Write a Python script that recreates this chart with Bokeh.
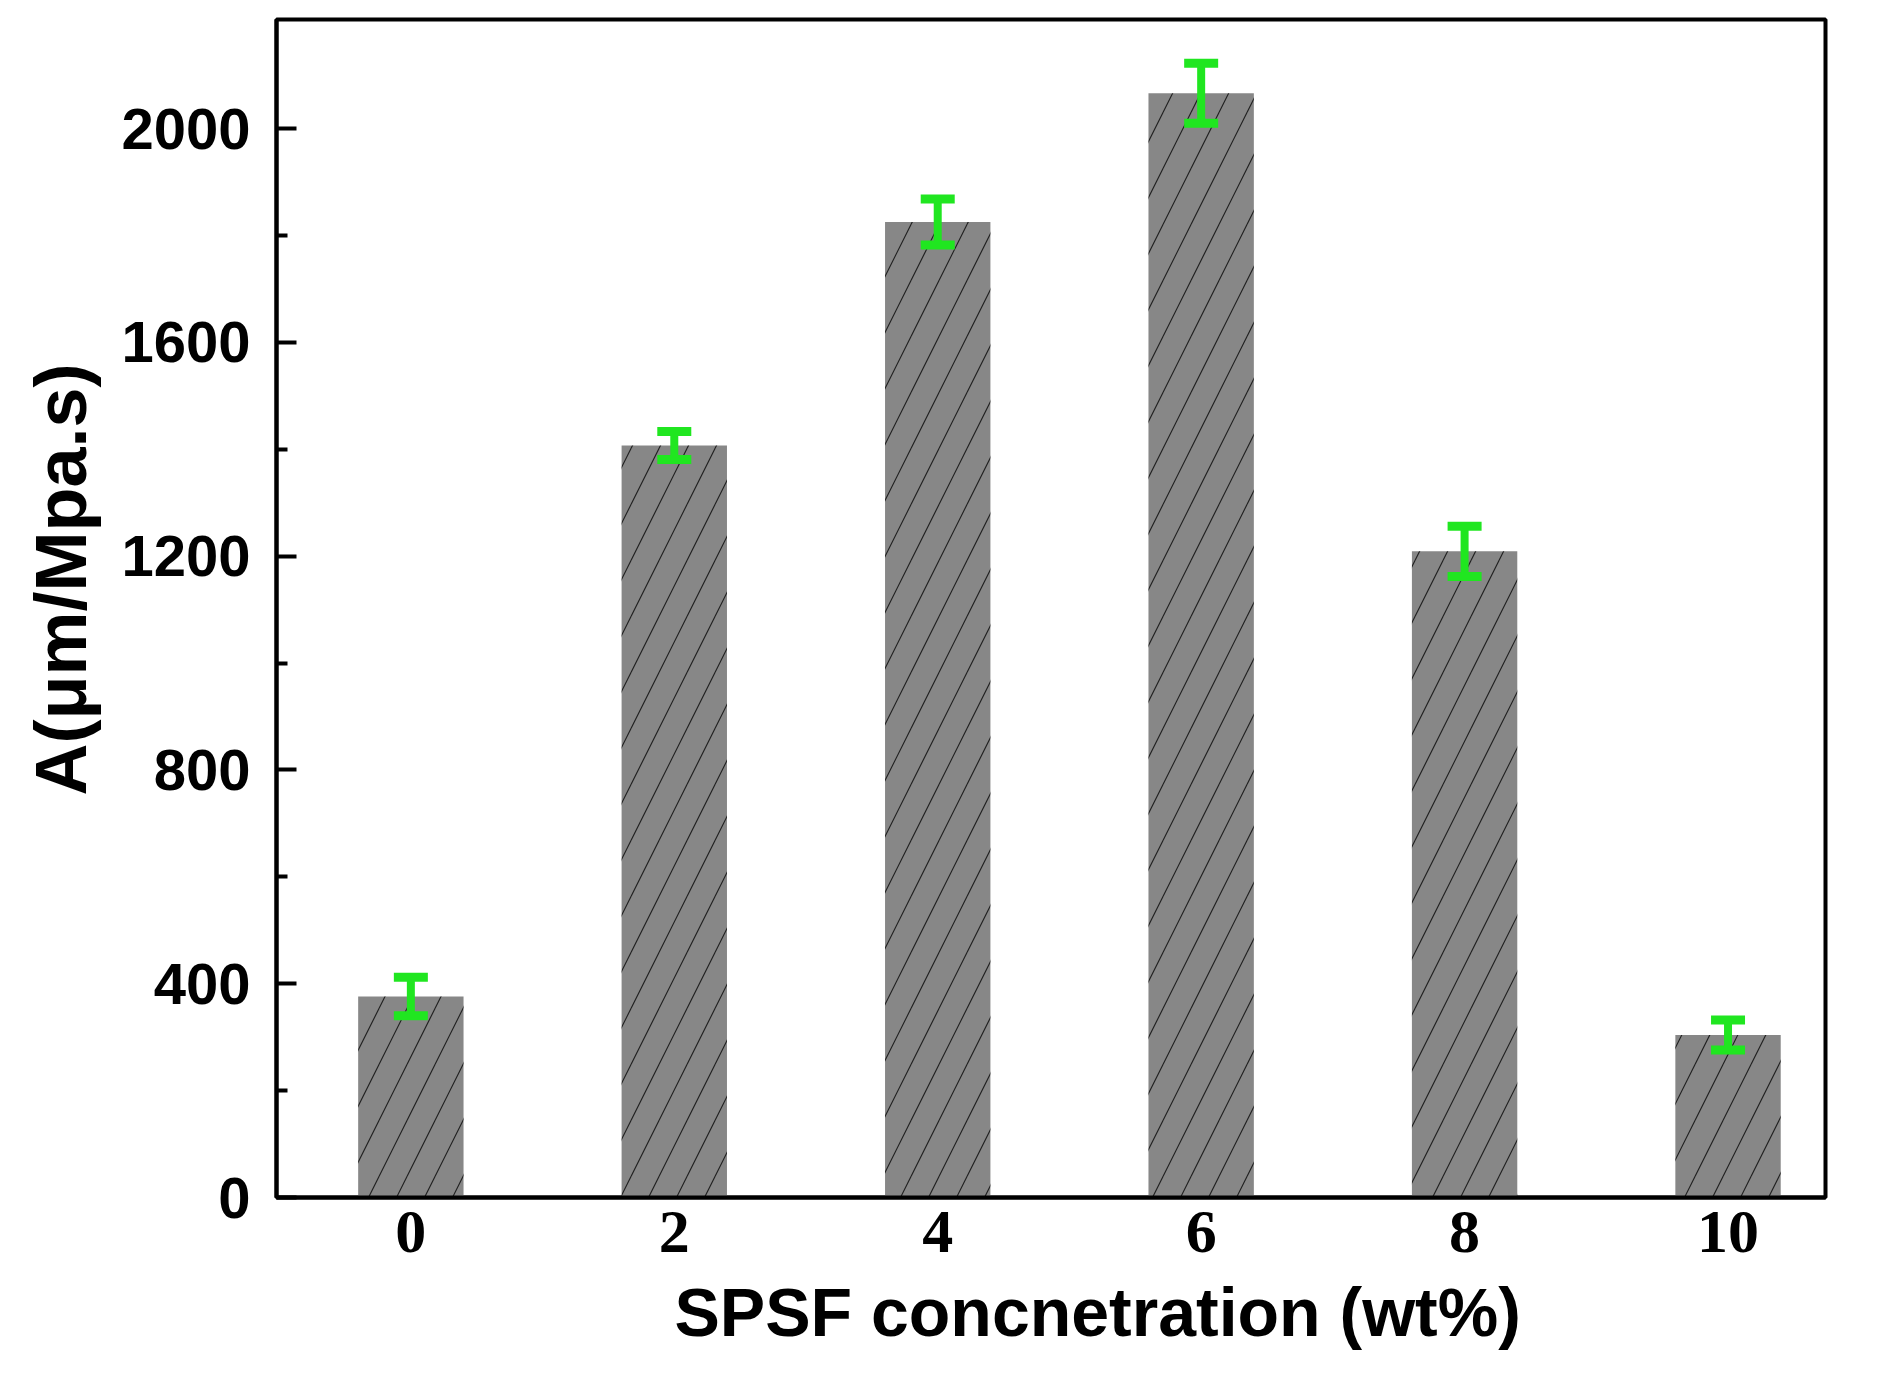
from bokeh.plotting import figure
from bokeh.models import ColumnDataSource, Whisker, TeeHead, FixedTicker, Range1d, Title
from bokeh.embed import file_html
from bokeh.resources import INLINE

# data
conc = [0, 2, 4, 6, 8, 10]
values = [376, 1407, 1825, 2066, 1209, 304]
errors = [36, 26, 43, 56, 47, 28]
x_ticks = [0, 2, 4, 6, 8, 10]
y_ticks = [0, 400, 800, 1200, 1600, 2000]
y_minor = [200, 600, 1000, 1400, 1800]
x_title = "SPSF concnetration (wt%)"
y_title = "A(μm/Mpa.s)"

src = ColumnDataSource(dict(
    x=conc, top=values,
    upper=[v + e for v, e in zip(values, errors)],
    lower=[v - e for v, e in zip(values, errors)],
))

p = figure(width=1870, height=1367, output_backend="svg", toolbar_location=None,
           x_range=Range1d(-1.02, 10.74), y_range=Range1d(0, 2204),
           min_border_left=276, min_border_right=45, min_border_top=19, min_border_bottom=170)
p.xgrid.visible = False
p.ygrid.visible = False
p.outline_line_color = "black"
p.outline_line_width = 4
p.background_fill_color = "white"

p.vbar(x="x", top="top", bottom=0, width=0.8, source=src,
       fill_color="#878787", line_color=None,
       hatch_pattern="/", hatch_color="black", hatch_weight=1.2, hatch_scale=56, hatch_alpha=0.75)

green = "#20E620"
w = Whisker(base="x", upper="upper", lower="lower", source=src,
            line_color=green, line_width=8, level="overlay",
            upper_head=TeeHead(size=34, line_color=green, line_width=9),
            lower_head=TeeHead(size=34, line_color=green, line_width=9))
p.add_layout(w)

# x axis
xa = p.xaxis[0]
xa.ticker = FixedTicker(ticks=x_ticks)
xa.major_tick_in = 0
xa.major_tick_out = 0
xa.minor_tick_in = 0
xa.minor_tick_out = 0
xa.axis_line_width = 4
xa.major_label_text_font = "Liberation Serif"
xa.major_label_text_font_style = "bold"
xa.major_label_text_font_size = "62px"
xa.major_label_text_color = "black"
xa.major_label_standoff = 14

# y axis
ya = p.yaxis[0]
ya.ticker = FixedTicker(ticks=y_ticks, minor_ticks=y_minor)
ya.major_tick_in = 20
ya.major_tick_out = 0
ya.minor_tick_in = 11
ya.minor_tick_out = 0
ya.major_tick_line_width = 4
ya.minor_tick_line_width = 4
ya.axis_line_width = 4
ya.major_label_text_font = "Liberation Sans"
ya.major_label_text_font_style = "bold"
ya.major_label_text_font_size = "58px"
ya.major_label_text_color = "black"
ya.major_label_standoff = 26

# axis titles as side-panel titles (slightly off-centre, as in the reference)
p.add_layout(Title(text=x_title, align="left", offset=398, standoff=34,
                   text_font="Liberation Sans", text_font_style="bold", text_font_size="68px",
                   text_color="black"), "below")
p.add_layout(Title(text=y_title, align="left", offset=402, standoff=36,
                   text_font="Liberation Sans", text_font_style="bold", text_font_size="72px",
                   text_color="black"), "left")

open("out.html", "w").write(file_html(p, INLINE))
